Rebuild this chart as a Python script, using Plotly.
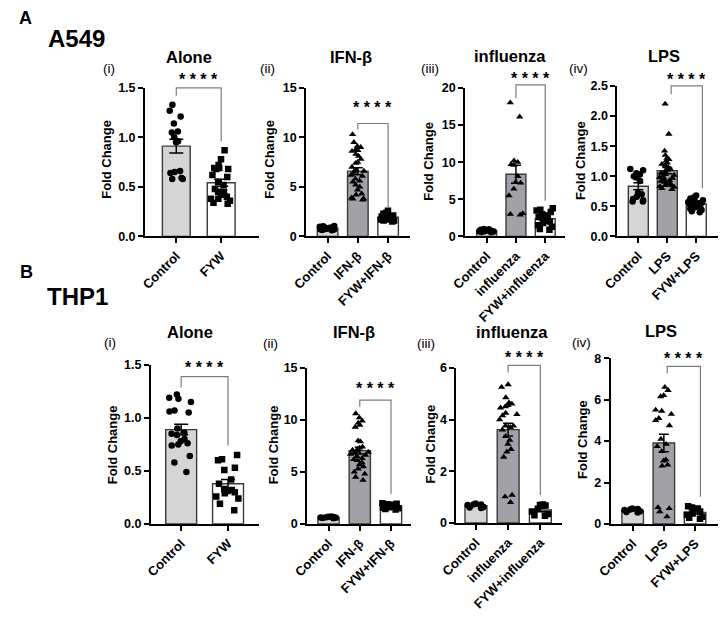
import numpy as np
import plotly.graph_objects as go

FONT = "Liberation Sans, Arial, sans-serif"
WIN_W, WIN_H = 726, 619
OFF = 8                      # default page (body) margin of the html page
W, H = WIN_W - 2 * OFF, WIN_H - 2 * OFF

# ---------------- categories / tick labels ----------------
cats_alone = ["Control", "FYW"]
cats_ifn = ["Control", "IFN-β", "FYW+IFN-β"]
cats_flu = ["Control", "influenza", "FYW+influenza"]
cats_lps = ["Control", "LPS", "FYW+LPS"]

# ---------------- A549 values (fold change) ----------------
a549_alone_control = [1.33, 1.27, 1.21, 1.14, 1.06, 1.05, 1.00, 0.96, 0.95, 0.66, 0.65, 0.64, 0.59, 0.58, 0.58]
a549_alone_fyw = [0.87, 0.78, 0.72, 0.69, 0.69, 0.68, 0.68, 0.62, 0.60, 0.55, 0.52, 0.48, 0.45, 0.45,
                  0.42, 0.40, 0.38, 0.38, 0.36, 0.34, 0.33]

a549_ifn_control = [0.62, 0.66, 0.70, 0.74, 0.78, 0.80, 0.82, 0.85, 0.88, 0.90, 0.94, 0.98, 1.02, 1.06, 0.72, 0.84]
a549_ifn_ifn = [10.3, 9.5, 9.1, 9.0, 8.8, 8.7, 8.6, 8.3, 8.1, 7.8, 7.5, 7.4, 7.0, 6.7, 6.6, 6.5, 6.2, 6.1,
                5.8, 5.6, 5.5, 5.2, 5.0, 4.7, 4.3, 4.2, 3.9, 3.8, 3.8, 3.7]
a549_ifn_fyw = [2.6, 2.4, 2.3, 2.2, 2.1, 2.0, 2.0, 1.9, 1.9, 1.9, 1.8, 1.8, 1.8, 1.7, 1.7, 1.7, 1.6, 1.6, 1.5, 2.1]

a549_flu_control = [0.55, 0.60, 0.65, 0.70, 0.75, 0.80, 0.85, 0.90, 0.95, 1.00, 0.70, 0.80]
a549_flu_flu = [18.0, 16.1, 10.2, 10.0, 9.7, 9.6, 8.1, 7.3, 7.2, 6.4, 5.5, 3.1, 3.0, 2.9]
a549_flu_fyw = [3.8, 3.6, 3.5, 3.3, 3.0, 2.8, 2.6, 2.5, 2.3, 2.1, 2.0, 1.8, 1.5, 1.3, 1.0, 0.9]

a549_lps_control = [1.12, 1.10, 1.05, 1.03, 1.00, 0.98, 0.92, 0.72, 0.70, 0.66, 0.62, 0.60, 0.58, 0.58]
a549_lps_lps = [2.20, 1.70, 1.42, 1.35, 1.30, 1.28, 1.25, 1.22, 1.20, 1.18, 1.15, 1.12, 1.10, 1.08, 1.05, 1.03,
                1.02, 1.00, 0.98, 0.97, 0.95, 0.93, 0.92, 0.90, 0.88, 0.87, 0.85, 0.85, 0.83, 0.82, 0.80, 0.78]
a549_lps_fyw = [0.68, 0.65, 0.63, 0.62, 0.60, 0.58, 0.57, 0.56, 0.55, 0.55, 0.54, 0.53, 0.52, 0.50, 0.49,
                0.48, 0.46, 0.44, 0.42, 0.40]

# ---------------- THP1 values (fold change) ----------------
thp1_alone_control = [1.22, 1.19, 1.18, 1.15, 1.07, 1.06, 1.05, 0.90, 0.86, 0.85, 0.84, 0.80, 0.78, 0.76,
                      0.75, 0.74, 0.64, 0.58, 0.49]
thp1_alone_fyw = [0.65, 0.61, 0.60, 0.53, 0.51, 0.42, 0.38, 0.33, 0.32, 0.31, 0.30, 0.29, 0.26, 0.24, 0.19, 0.13]

thp1_ifn_control = [0.55, 0.60, 0.62, 0.65, 0.68, 0.70, 0.72, 0.58]
thp1_ifn_ifn = [10.6, 10.2, 9.9, 9.7, 9.5, 9.3, 8.0, 7.9, 7.4, 7.3, 7.2, 7.1, 7.0, 6.9, 6.8, 6.7, 6.6, 6.5,
                6.3, 6.2, 6.1, 5.9, 5.7, 5.5, 5.3, 5.0, 4.8, 4.5, 4.2]
thp1_ifn_fyw = [2.0, 1.95, 1.9, 1.85, 1.8, 1.75, 1.7, 1.7, 1.65, 1.6, 1.55, 1.5, 1.45, 1.4]

thp1_flu_control = [0.75, 0.72, 0.72, 0.70, 0.62, 0.60, 0.58]
thp1_flu_flu = [5.35, 5.25, 4.85, 4.65, 4.6, 4.55, 4.5, 4.45, 4.25, 4.2, 4.15, 4.0, 3.75, 3.75, 3.7, 3.6,
                3.35, 3.2, 3.05, 2.85, 2.75, 2.55, 1.08, 1.02, 0.8]
thp1_flu_fyw = [0.72, 0.70, 0.68, 0.55, 0.45, 0.35, 0.30, 0.28]

thp1_lps_control = [0.75, 0.72, 0.70, 0.68, 0.62, 0.58, 0.55]
thp1_lps_lps = [6.6, 6.45, 6.2, 6.15, 5.5, 5.45, 5.3, 5.1, 5.0, 4.75, 4.1, 3.85, 3.75, 3.5, 3.1, 3.05,
                2.85, 2.8, 0.8, 0.75, 0.6, 0.35]
thp1_lps_fyw = [0.85, 0.80, 0.75, 0.70, 0.60, 0.50, 0.45, 0.35, 0.30, 0.25]

# ---------------- styling ----------------
C_CTRL = "#d5d5d5"
C_TREAT = "#a1a1a7"
C_FYW = "#ffffff"
EDGE = "#3a3a3a"
BRACKET = "#7d7d7d"

# panel layout (screen pixels): axis box, first/last category centre, bar width,
# bracket (top, left-leg end, right-leg end, star height) in axis units
panels = [
    dict(cats=cats_alone, groups=[a549_alone_control, a549_alone_fyw],
         colors=[C_CTRL, C_FYW], symbols=["circle", "square"],
         ymax=1.5, dtick=0.5, fmt="{:.1f}", px=(131, 248, 84, 239), centers=(163, 209), bw=0.62, cap=7,
         bracket=(1.5, 1.42, 0.96, 1.61), title="Alone", tpos=(176, 52), label="(i)", lpos=(94, 64),
         ytpos=(92, 158)),
    dict(cats=cats_ifn, groups=[a549_ifn_control, a549_ifn_ifn, a549_ifn_fyw],
         colors=[C_CTRL, C_TREAT, C_FYW], symbols=["circle", "triangle-up", "square"],
         ymax=15, dtick=5, fmt="{:.0f}", px=(296, 402, 84, 239), centers=(318, 380), bw=0.68, cap=5,
         bracket=(11.4, 10.8, 2.9, 13.3), title="IFN-β", tpos=(342, 52), label="(ii)", lpos=(256, 64),
         ytpos=(259, 158)),
    dict(cats=cats_flu, groups=[a549_flu_control, a549_flu_flu, a549_flu_fyw],
         colors=[C_CTRL, C_TREAT, C_FYW], symbols=["circle", "triangle-up", "square"],
         ymax=20, dtick=5, fmt="{:.0f}", px=(459, 561, 84, 239), centers=(481, 541), bw=0.68, cap=5,
         bracket=(20.4, 18.6, 4.8, 21.7), title="influenza", tpos=(505, 51), label="(iii)", lpos=(423, 64),
         ytpos=(422, 161)),
    dict(cats=cats_lps, groups=[a549_lps_control, a549_lps_lps, a549_lps_fyw],
         colors=[C_CTRL, C_TREAT, C_FYW], symbols=["circle", "triangle-up", "circle"],
         ymax=2.5, dtick=0.5, fmt="{:.1f}", px=(615, 726, 82, 239), centers=(638, 702), bw=0.69, cap=5,
         bracket=(2.5, 2.36, 0.8, 2.66), title="LPS", tpos=(663, 51), label="(iv)", lpos=(575, 64),
         ytpos=(577, 160)),
    dict(cats=cats_alone, groups=[thp1_alone_control, thp1_alone_fyw],
         colors=[C_CTRL, C_FYW], symbols=["circle", "square"],
         ymax=1.5, dtick=0.5, fmt="{:.1f}", px=(137, 248, 373, 539), centers=(168, 216), bw=0.66, cap=7,
         bracket=(1.39, 1.29, 0.74, 1.5), title="Alone", tpos=(177, 339), label="(i)", lpos=(95, 350),
         ytpos=(98, 456)),
    dict(cats=cats_ifn, groups=[thp1_ifn_control, thp1_ifn_ifn, thp1_ifn_fyw],
         colors=[C_CTRL, C_TREAT, C_FYW], symbols=["circle", "triangle-up", "square"],
         ymax=15, dtick=5, fmt="{:.0f}", px=(297, 403, 376, 539), centers=(319, 383), bw=0.68, cap=5,
         bracket=(11.9, 11.25, 2.9, 13.3), title="IFN-β", tpos=(345, 339), label="(ii)", lpos=(260, 351),
         ytpos=(263, 456)),
    dict(cats=cats_flu, groups=[thp1_flu_control, thp1_flu_flu, thp1_flu_fyw],
         colors=[C_CTRL, C_TREAT, C_FYW], symbols=["circle", "triangle-up", "square"],
         ymax=6, dtick=2, fmt="{:.0f}", px=(450, 558, 376, 538), centers=(470, 536), bw=0.68, cap=5,
         bracket=(6.09, 5.82, 1.08, 6.5), title="influenza", tpos=(507, 339), label="(iii)", lpos=(419, 351),
         ytpos=(423, 456)),
    dict(cats=cats_lps, groups=[thp1_lps_control, thp1_lps_lps, thp1_lps_fyw],
         colors=[C_CTRL, C_TREAT, C_FYW], symbols=["circle", "triangle-up", "square"],
         ymax=8, dtick=2, fmt="{:.0f}", px=(608, 725, 366, 539), centers=(632, 700), bw=0.69, cap=5,
         bracket=(7.6, 7.26, 1.31, 8.1), title="LPS", tpos=(660, 338), label="(iv)", lpos=(578, 350),
         ytpos=(579, 451)),
]


def fx(p):
    return min(1.0, max(0.0, (p - OFF) / W))


def fy(p):
    return min(1.0, max(0.0, 1 - (p - OFF) / H))


fig = go.Figure()
annotations = []
shapes = []
layout_axes = {}

for i, p in enumerate(panels, start=1):
    xa = "x" if i == 1 else f"x{i}"
    ya = "y" if i == 1 else f"y{i}"
    cats = p["cats"]
    n = len(cats)
    means = [float(np.mean(g)) for g in p["groups"]]
    sems = [float(np.std(g, ddof=1) / np.sqrt(len(g))) for g in p["groups"]]

    fig.add_trace(go.Bar(
        x=cats, y=means, width=p["bw"],
        marker=dict(color=p["colors"], line=dict(color=EDGE, width=1.4)),
        error_y=dict(type="data", array=sems, visible=True, color="black", thickness=1.5, width=p["cap"]),
        xaxis=xa, yaxis=ya, showlegend=False, hoverinfo="skip"))

    for c, g, sym in zip(cats, p["groups"], p["symbols"]):
        fig.add_trace(go.Box(
            x=[c] * len(g), y=g, boxpoints="all", jitter=1.0, pointpos=0, width=p["bw"] * 0.9,
            fillcolor="rgba(0,0,0,0)", line=dict(color="rgba(0,0,0,0)", width=0),
            marker=dict(symbol=sym, size=6.5, color="black", line=dict(width=0)),
            xaxis=xa, yaxis=ya, showlegend=False, hoveron="points"))

    x0, x1, yt, yb = p["px"]
    c0, c1 = p["centers"]
    s = (c1 - c0) / (n - 1)
    xr = [(x0 - c0) / s, (x1 - c0) / s]

    def vpx(v, yt=yt, yb=yb, ymax=p["ymax"]):
        return yb - v / ymax * (yb - yt)

    # significance bracket between the treatment group and the FYW group
    top, lend, rend, stary = p["bracket"]
    xa_px = c0 + (n - 2) * s
    xb_px = c0 + (n - 1) * s
    path = (f"M {fx(xa_px)} {fy(vpx(lend))} L {fx(xa_px)} {fy(vpx(top))} "
            f"L {fx(xb_px)} {fy(vpx(top))} L {fx(xb_px)} {fy(vpx(rend))}")
    shapes.append(dict(type="path", path=path, xref="paper", yref="paper",
                       line=dict(color=BRACKET, width=1.2)))
    annotations.append(dict(x=fx((xa_px + xb_px) / 2), y=fy(vpx(stary) + 3), xref="paper", yref="paper",
                            text="* * * *", showarrow=False, xanchor="center", yanchor="middle",
                            font=dict(family=FONT, size=16, color="black", weight="bold")))

    ticks = list(np.arange(0, p["ymax"] + 1e-9, p["dtick"]))
    key = "" if i == 1 else str(i)
    layout_axes["xaxis" + key] = dict(
        domain=[fx(x0), fx(x1)], anchor=ya, type="category", categoryorder="array", categoryarray=cats,
        range=xr, showline=True, linecolor="black", linewidth=2, ticks="outside", ticklen=5,
        tickwidth=1.6, tickcolor="black", tickangle=-45, showgrid=False, zeroline=False,
        tickfont=dict(family=FONT, size=13, color="black", weight="bold"), fixedrange=True)
    layout_axes["yaxis" + key] = dict(
        domain=[fy(yb), fy(yt)], anchor=xa, range=[0, p["ymax"]], tickvals=ticks,
        ticktext=[p["fmt"].format(t) for t in ticks], showline=True, linecolor="black", linewidth=2,
        ticks="outside", ticklen=5, tickwidth=1.6, tickcolor="black", showgrid=False, zeroline=False,
        tickfont=dict(family=FONT, size=12.5, color="black", weight="bold"), fixedrange=True)

    annotations.append(dict(x=fx(p["tpos"][0]), y=fy(p["tpos"][1]), xref="paper", yref="paper",
                            text=p["title"], showarrow=False, xanchor="center", yanchor="middle",
                            font=dict(family=FONT, size=16.5, color="black", weight="bold")))
    annotations.append(dict(x=fx(p["lpos"][0]), y=fy(p["lpos"][1]), xref="paper", yref="paper",
                            text=p["label"], showarrow=False, xanchor="center", yanchor="middle",
                            font=dict(family=FONT, size=13.5, color="#000000")))
    annotations.append(dict(x=fx(p["ytpos"][0]), y=fy(p["ytpos"][1]), xref="paper", yref="paper",
                            text="Fold Change", textangle=-90, showarrow=False, xanchor="center",
                            yanchor="middle", font=dict(family=FONT, size=13, color="black", weight="bold")))

for txt, (x, y), size in [("A", (9, 11), 18), ("A549", (61, 32), 24), ("B", (10, 276), 18), ("THP1", (62, 302), 24)]:
    annotations.append(dict(x=fx(x), y=fy(y), xref="paper", yref="paper", text=txt, showarrow=False,
                            xanchor="center", yanchor="middle",
                            font=dict(family=FONT, size=size, color="black", weight="bold")))

fig.update_layout(
    width=W, height=H, margin=dict(l=0, r=0, t=0, b=0), paper_bgcolor="white", plot_bgcolor="white",
    barmode="overlay", boxmode="overlay", showlegend=False, annotations=annotations, shapes=shapes,
    font=dict(family=FONT, color="black"), **layout_axes)

fig.write_html("out.html")
